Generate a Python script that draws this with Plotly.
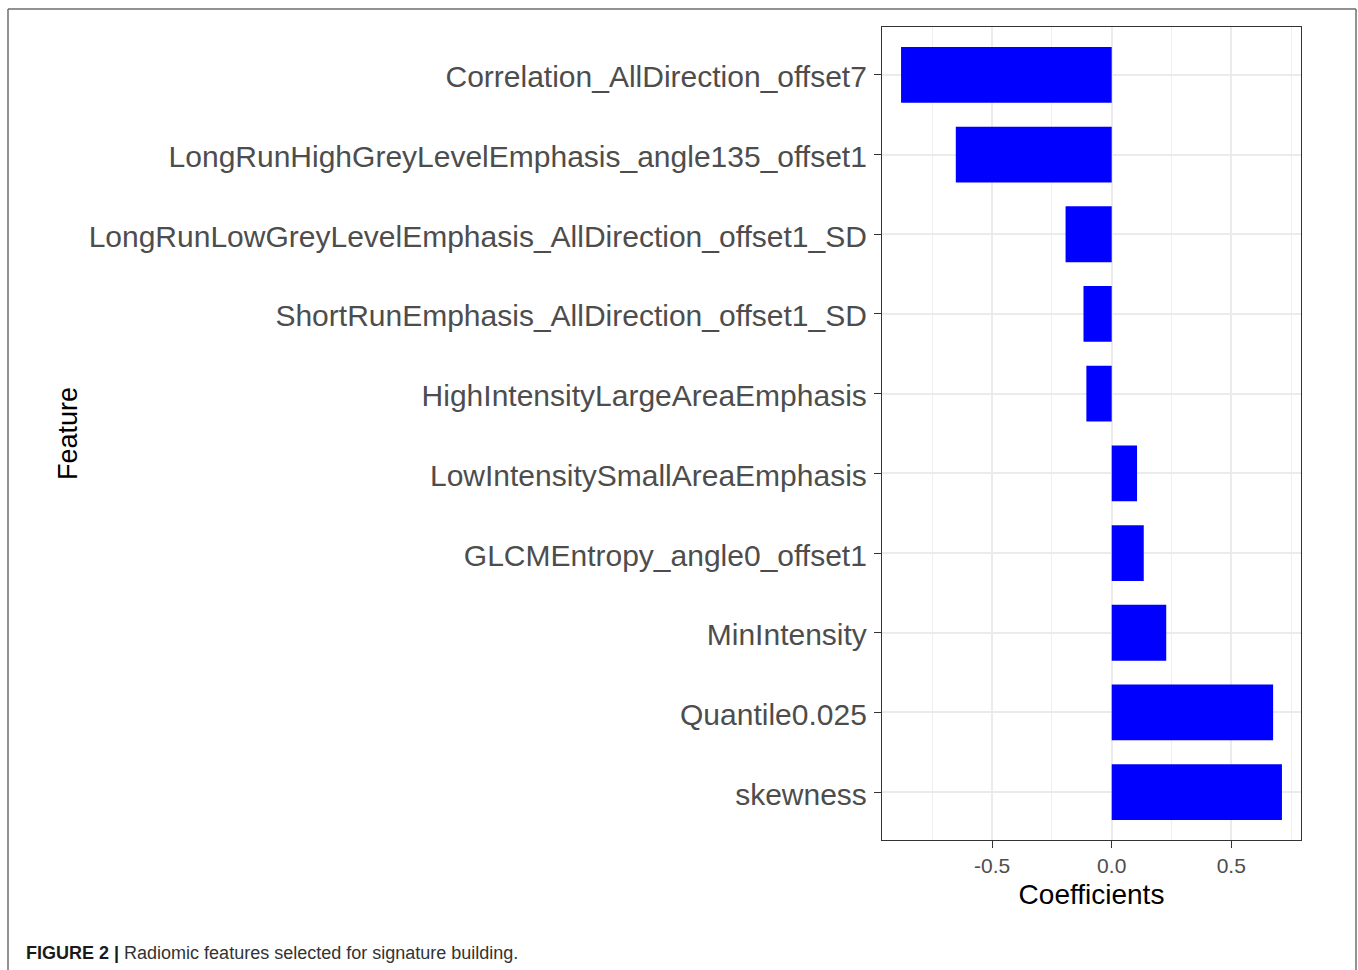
import plotly.graph_objects as go

# Radiomic features (top to bottom) and their model coefficients
features = [
    "Correlation_AllDirection_offset7",
    "LongRunHighGreyLevelEmphasis_angle135_offset1",
    "LongRunLowGreyLevelEmphasis_AllDirection_offset1_SD",
    "ShortRunEmphasis_AllDirection_offset1_SD",
    "HighIntensityLargeAreaEmphasis",
    "LowIntensitySmallAreaEmphasis",
    "GLCMEntropy_angle0_offset1",
    "MinIntensity",
    "Quantile0.025",
    "skewness",
]
coefficients = [-0.881, -0.652, -0.193, -0.118, -0.106, 0.106, 0.134, 0.228, 0.675, 0.712]

x_ticks = [-0.5, 0.0, 0.5]
x_tick_labels = ["-0.5", "0.0", "0.5"]

FONT = "Liberation Sans, Arial, sans-serif"
W, H = 1358, 970
L, R, T, B = 882, 1301, 27, 840

# ggplot-style 5% expansion of the continuous axis
lo = min(min(coefficients), 0.0)
hi = max(max(coefficients), 0.0)
pad = 0.05 * (hi - lo)
x_range = [lo - pad, hi + pad]

fig = go.Figure(
    go.Bar(
        x=coefficients,
        y=features,
        orientation="h",
        width=0.7,
        marker=dict(color="#0000FF", line=dict(width=0)),
        hoverinfo="x+y",
    )
)

fig.update_layout(
    width=W,
    height=H,
    margin=dict(l=L, r=W - R, t=T, b=H - B, pad=0),
    paper_bgcolor="white",
    plot_bgcolor="white",
    showlegend=False,
    font=dict(family=FONT, color="#4D4D4D"),
)

fig.update_xaxes(
    range=x_range,
    tickvals=x_ticks,
    ticktext=x_tick_labels,
    ticks="outside",
    ticklen=7,
    tickwidth=1.2,
    tickcolor="#333333",
    tickfont=dict(size=21, color="#4D4D4D", family=FONT),
    ticklabelstandoff=0,
    showgrid=True,
    gridcolor="#EBEBEB",
    gridwidth=1.5,
    minor=dict(dtick=0.25, tick0=0, showgrid=True, gridcolor="#EFEFEF", gridwidth=1, ticks=""),
    zeroline=False,
    showline=True,
    linecolor="#333333",
    linewidth=1.3,
    mirror=True,
    title=dict(text="Coefficients", font=dict(size=28, color="black", family=FONT), standoff=8),
)

fig.update_yaxes(
    type="category",
    categoryorder="array",
    categoryarray=features,
    range=[len(features) - 0.4, -0.6],
    ticks="outside",
    ticklen=7,
    tickwidth=1.2,
    tickcolor="#333333",
    tickfont=dict(size=30, color="#4D4D4D", family=FONT),
    ticklabelstandoff=1,
    ticklabelshift=-2,
    showgrid=True,
    gridcolor="#EBEBEB",
    gridwidth=1.5,
    zeroline=False,
    showline=True,
    linecolor="#333333",
    linewidth=1.3,
    mirror=True,
    title=dict(text="Feature", font=dict(size=27, color="black", family=FONT), standoff=3),
)

# Outer frame around the figure (open at the bottom)
pw, ph = R - L, B - T
def px(x):
    return (x - L) / pw
def py(y):
    return (B - y) / ph

frame = dict(type="line", xref="paper", yref="paper", line=dict(color="#6E6E6E", width=1.5))
fig.add_shape(**frame, x0=px(8), x1=px(8), y0=py(9), y1=py(H + 5))
fig.add_shape(**frame, x0=px(8), x1=px(1356), y0=py(9), y1=py(9))
fig.add_shape(**frame, x0=px(1356), x1=px(1356), y0=py(9), y1=py(H + 5))

# Figure caption
fig.add_annotation(
    xref="paper", yref="paper",
    x=px(24), y=py(953),
    xanchor="left", yanchor="middle",
    text="<b>FIGURE 2 |</b> <span style='color:#333333'>Radiomic features selected for signature building.</span>",
    showarrow=False,
    font=dict(size=18, color="#1A1A1A", family=FONT),
)

fig.write_html("out.html")
